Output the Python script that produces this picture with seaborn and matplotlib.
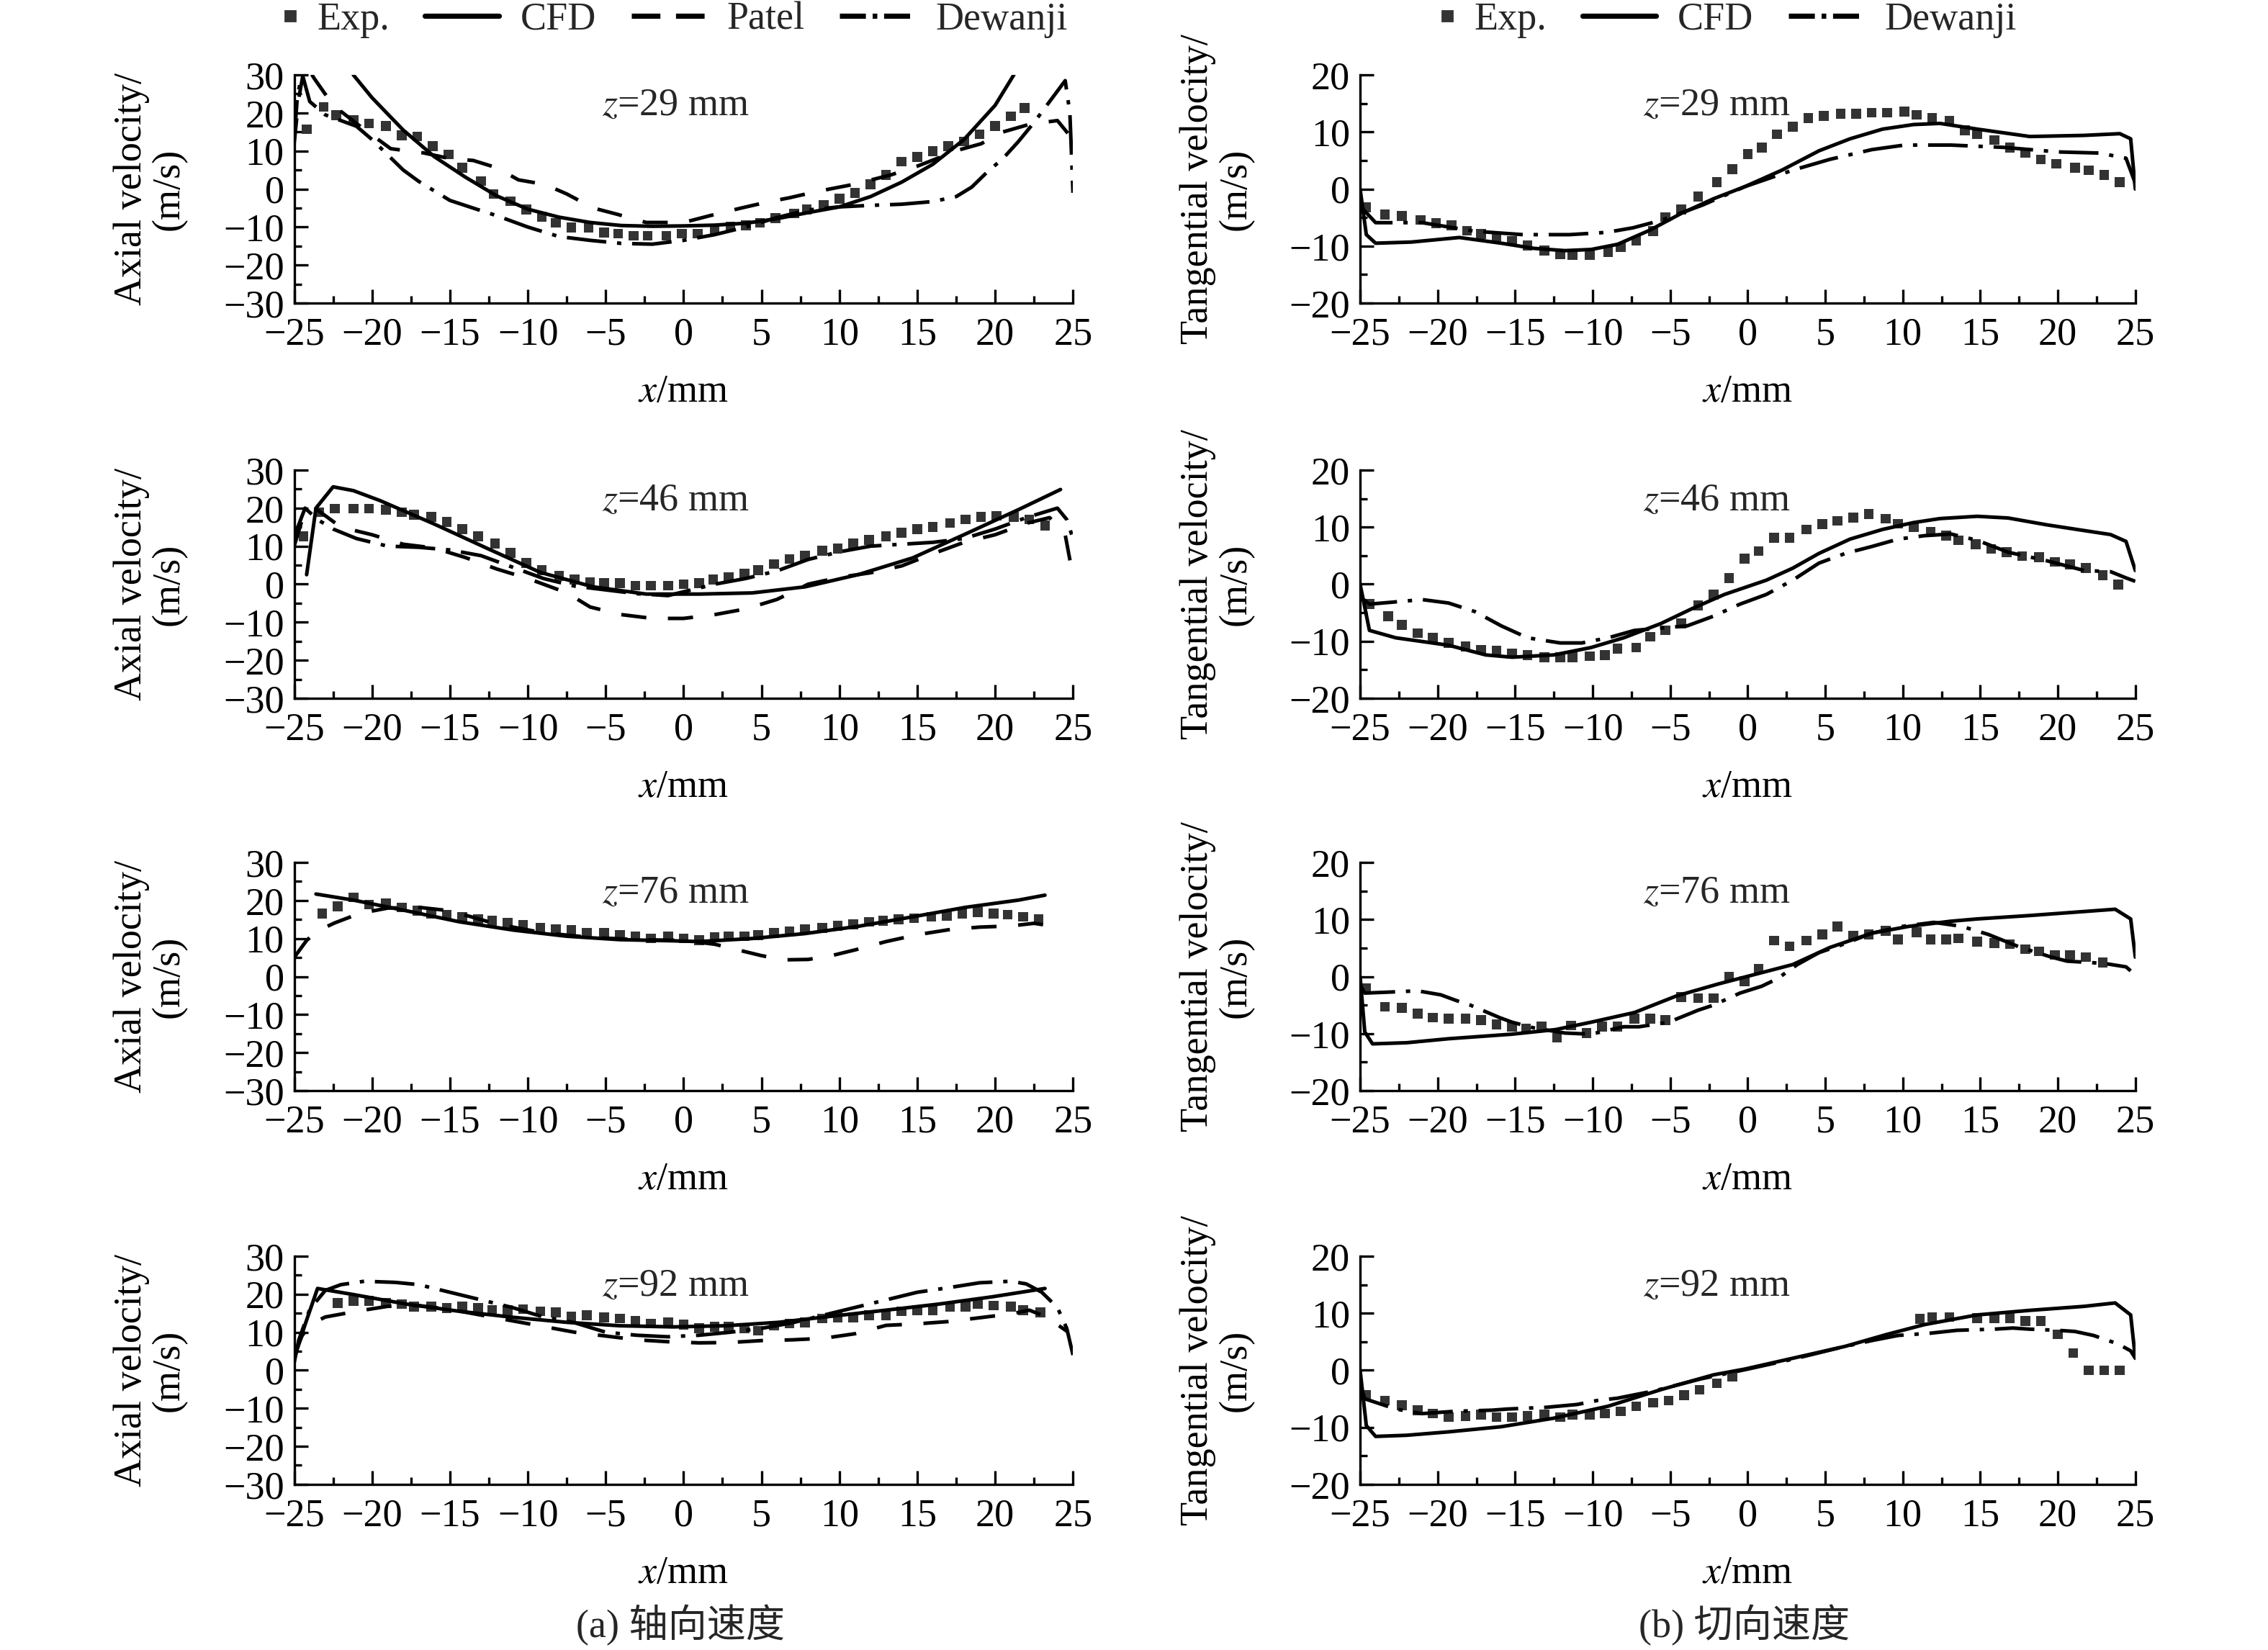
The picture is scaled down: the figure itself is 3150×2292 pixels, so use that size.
import matplotlib
matplotlib.use("Agg")
import matplotlib.pyplot as plt
from matplotlib.lines import Line2D
from matplotlib.legend_handler import HandlerLine2D
from matplotlib.ticker import MultipleLocator
import seaborn as sns

# ---------------- axial velocity, z = 29 mm ----------------
A29_EXP_X = [-24.2, -23.1, -22.3, -21.2, -20.2, -19.1, -18.1, -17.1, -16.1, -15.1, -14.2, -13.0,
             -12.2, -11.1, -10.1, -9.1, -8.2, -7.2, -6.1, -5.1, -4.2, -3.2, -2.3, -1.1, -0.1,
             0.9, 2.0, 3.0, 4.0, 4.9, 5.9, 7.1, 7.9, 9.0, 10.0, 11.0, 12.0, 13.0, 14.0, 15.0,
             16.0, 17.0, 18.0, 19.0, 20.0, 21.0, 21.9]
A29_EXP_Y = [15.7, 21.6, 19.4, 18.2, 17.2, 16.6, 14.1, 13.8, 11.3, 9.1, 5.6, 2.1,
             -1.3, -3.2, -5.4, -7.3, -8.9, -10.1, -10.1, -11.4, -11.7, -12.3, -12.3, -12.3, -11.7,
             -11.7, -10.8, -9.8, -9.5, -8.9, -7.6, -6.4, -5.4, -4.2, -2.6, -1.0, 1.2, 3.7, 7.2, 8.4,
             10.0, 11.3, 12.5, 14.4, 16.6, 19.1, 21.3]
A29_CFD_X = [-21.2, -20, -18, -16, -14, -12, -10, -8, -6, -4, -2, 0, 2, 4, 6, 8, 10, 12, 14,
             16, 18, 20, 21.2]
A29_CFD_Y = [30, 24, 15.5, 8.5, 3.1, -1.8, -5.3, -7.4, -8.8, -9.6, -9.8, -9.7, -9.5, -9, -7.8,
             -6.2, -4.7, -2, 1.8, 6.5, 13, 22, 30]
A29_PAT_X = [-25, -24.7, -24.3, -23.7, -22.5, -20.7, -18.8, -16.7, -15, -13.5, -12, -10.6, -8.9,
             -7.5, -5.8, -4.3, -2.4, 0, 1.7, 3.7, 5.3, 6.8, 8.5, 10.9, 13.3, 15, 17.7, 19.1,
             20.5, 22.2, 24, 25]
A29_PAT_Y = [12, 24, 33, 29, 22, 16.3, 10.6, 9.5, 8, 7.5, 5.6, 2.4, 1.2, -1.3, -5, -6.6, -8.8,
             -8.8, -7, -5, -3.5, -2.3, -0.7, 1.2, 3.7, 6, 10.3, 11.9, 15, 17, 18, 13]
A29_DEW_X = [-25, -24.8, -24.5, -24, -23, -21, -20, -19, -18, -17, -16, -15, -13, -12, -10, -8,
             -6, -4, -2, 0, 2, 4, 6, 8, 10, 12, 14, 16, 17.5, 18.5, 19.5, 20.5, 21.5, 22.5,
             23.5, 24.5, 24.8, 25]
A29_DEW_Y = [13, 24, 30.5, 23, 19.5, 16.5, 13, 9, 5, 2, -0.5, -3, -5.7, -7, -10, -12.5, -13.5,
             -14.3, -14.5, -13.5, -12, -10, -7.5, -5.5, -4.7, -4.3, -4, -3.3, -2, 0.5, 4.5, 8,
             12.5, 17.5, 23, 28.5, 20, -1]

# ---------------- axial velocity, z = 46 mm ----------------
A46_EXP_X = [-24.4, -23.4, -22.4, -21.2, -20.2, -19.1, -18.1, -17.3, -16.2, -15.2, -14.2, -13.2,
             -12.1, -11.1, -10.1, -9.1, -8.0, -7.0, -6.0, -5.1, -4.1, -3.1, -2.1, -1.0, 0, 1.0,
             1.9, 2.9, 3.9, 4.8, 5.8, 6.8, 7.8, 8.9, 9.9, 10.9, 11.9, 13.0, 14.0, 15.0, 16.0,
             17.1, 18.1, 19.1, 20.1, 21.2, 22.2, 23.2]
A46_EXP_Y = [12.6, 18.9, 19.9, 19.9, 19.9, 19.6, 18.9, 18.3, 17.7, 16.4, 14.5, 12.6,
             10.7, 8.2, 5.6, 3.7, 2.2, 1.2, 0.6, 0.3, 0.3, -0.4, -0.4, -0.4, 0, 0.3,
             1.2, 1.8, 2.8, 3.7, 5.3, 6.6, 7.5, 8.8, 9.4, 10.7, 11.6, 12.6, 13.5, 14.5, 15.1,
             16.1, 17.0, 17.7, 18.0, 17.7, 17.0, 15.4]
A46_CFD_X = [-24.2, -23.6, -22.5, -21.2, -19.5, -16, -12.6, -9.2, -5.8, -2.4, 1, 4.4, 7.8, 11.2,
             14.7, 18.1, 21.5, 24.2]
A46_CFD_Y = [2.5, 20, 25.6, 24.6, 22, 15.8, 9.4, 3.1, -0.7, -2.6, -2.6, -2.3, -0.7, 2.5, 6.9,
             13.2, 19.6, 24.9]
A46_PAT_X = [-25, -24.3, -23.5, -23, -22, -20, -18, -16, -14, -12, -10, -8, -7, -6, -4, -2, 0,
             2, 4, 6, 8, 10, 12, 14, 16, 18, 20, 22, 23.5, 24.5, 25]
A46_PAT_Y = [10, 19.5, 19.5, 18, 15, 13, 10.5, 9.5, 7, 4, 1.5, -1.5, -3.5, -6, -8, -9, -9,
             -8, -6.5, -4, 0, 1.8, 3, 4.8, 8, 11, 13, 16, 17.5, 13, 2]
A46_DEW_X = [-25, -24.3, -23.5, -22.5, -21, -19, -17, -15, -13, -11, -9, -7, -5, -3, -1, 0, 2,
             4, 6, 8, 10, 12, 14, 16, 18, 20, 22, 24, 24.6, 25]
A46_DEW_Y = [12.5, 20, 17, 14.5, 12, 10, 9.7, 9, 7.5, 4.5, 1.5, -0.5, -1.5, -2.5, -3, -2, 0,
             1.5, 3.5, 6.5, 8.5, 10, 10.5, 11, 12, 14.5, 17.5, 20, 17, 12]

# ---------------- axial velocity, z = 76 mm ----------------
A76_EXP_X = [-23.2, -22.2, -21.2, -20.2, -19.1, -18.1, -17.1, -16.2, -15.2, -14.2, -13.2, -12.3,
             -11.3, -10.3, -9.2, -8.2, -7.2, -6.2, -5.1, -4.1, -3.1, -2.1, -1.0, 0, 1, 2, 2.9,
             3.9, 4.8, 5.8, 6.8, 7.8, 8.9, 9.9, 10.9, 11.9, 12.8, 13.8, 14.8, 15.9, 16.9, 17.9,
             18.9, 19.9, 20.8, 21.8, 22.8]
A76_EXP_Y = [16.6, 18.5, 20.8, 18.9, 19.2, 18.2, 17.3, 16.6, 16.3, 15.7, 15.1, 14.7,
             14.1, 13.5, 12.8, 12.5, 12.2, 11.5, 11.5, 10.9, 10.6, 10.0, 10.6, 10.0, 9.6, 10.3, 10.6,
             10.6, 10.9, 11.5, 11.8, 12.5, 12.8, 13.4, 13.7, 14.4, 14.7, 15.0, 15.3, 15.7, 16.0, 16.6,
             17.0, 16.6, 16.3, 15.7, 15.1]
A76_CFD_X = [-23.6, -21.2, -17.8, -14.4, -10.9, -7.5, -4.1, -0.7, 1, 4.4, 7.8, 11.2, 14.7, 18.1,
             21.5, 23.2]
A76_CFD_Y = [21.7, 20.1, 17.3, 14.4, 12.2, 10.6, 9.7, 9.4, 9.2, 10, 11.3, 13.2, 15.7, 18.2,
             20.1, 21.4]
A76_PAT_X = [-25, -24.2, -23.5, -22.4, -20.8, -19, -17, -15, -12, -9, -6, -3, 0, 2, 3.5, 5,
             6.5, 8, 9.5, 11, 13, 15, 17, 19, 21, 22.5, 23.3, 24]
A76_PAT_Y = [5, 9.5, 12, 14.1, 16.6, 18, 18.2, 17.3, 13.8, 11.5, 10.3, 9.7, 9.5, 8.5, 7, 5.5,
             4.4, 4.5, 5.5, 7, 9.2, 11, 12.3, 13, 13.3, 14, 13.5, 11]

# ---------------- axial velocity, z = 92 mm ----------------
A92_EXP_X = [-22.2, -21.2, -20.2, -19.1, -18.1, -17.3, -16.2, -15.2, -14.2, -13.2, -12.3, -11.3,
             -10.3, -9.2, -8.2, -7.2, -6.2, -5.1, -4.1, -3.1, -2.1, -1.0, 0, 1, 2, 2.9, 3.9, 4.8,
             5.8, 6.8, 7.8, 8.9, 9.9, 10.9, 11.9, 13, 14, 15, 16, 17.1, 18.1, 18.9, 19.9, 21,
             21.8, 22.9]
A92_EXP_Y = [17.7, 18.3, 18.3, 17.7, 17.4, 16.7, 16.7, 16.4, 16.7, 16.4, 15.8, 15.8,
             16.1, 15.5, 15.2, 14.2, 14.5, 13.9, 13.6, 12.9, 12.3, 12.6, 12.0, 11.0, 11.4, 11.4, 11.0,
             10.4, 11.7, 12.3, 12.6, 13.6, 13.9, 13.9, 14.5, 14.5, 15.5, 15.8, 15.8, 16.7, 16.7,
             17.4, 17.0, 16.7, 15.8, 15.2]
A92_CFD_X = [-25, -24.3, -23.5, -21.2, -17.8, -14.4, -10.9, -7.5, -4.1, -0.7, 2.7, 6.1, 9.5, 13,
             16.4, 19.8, 23.2]
A92_CFD_Y = [3, 12, 21.5, 19.9, 17.4, 15.5, 13.9, 12.6, 11.7, 11.4, 11.7, 12.6, 14.2, 15.8,
             17.4, 19.3, 21.5]
A92_PAT_X = [-25, -24.5, -24, -23, -21, -19, -17, -15, -13, -11, -9, -7, -5, -3, -1, 1, 3, 5,
             7, 9, 11, 13, 15, 17, 19, 21, 22.2, 23, 24, 24.7]
A92_PAT_Y = [4, 9, 12, 14, 15.5, 16.8, 17, 16, 14.5, 13, 11.5, 10, 9, 8, 7.5, 7.2, 7.3, 7.8,
             8, 8.4, 9.6, 11.8, 12.2, 12.8, 13.8, 14.8, 15.8, 14.5, 12, 10]
A92_DEW_X = [-25, -24.7, -24, -23, -22, -20.5, -18.5, -17, -15, -13, -11, -9, -7, -5, -3, -1, 1,
             3, 5, 7, 9, 11, 13, 15, 17, 19, 21, 22, 23, 24, 24.6, 25]
A92_DEW_Y = [2, 8, 16, 21, 22.5, 23.4, 23.1, 22.5, 20.5, 18.5, 16.5, 14, 12.5, 10, 9.2, 8.8, 9.2,
             10, 11, 12.5, 14.5, 16.5, 18.5, 20.5, 21.7, 23, 23.4, 22.7, 20.5, 16.5, 11, 4]

# ---------------- tangential velocity, z = 29 mm ----------------
T29_EXP_X = [-24.6, -23.4, -22.3, -21.1, -20.1, -19.1, -18.1, -17.2, -16.2, -15.2, -14.2, -13.1,
             -12.1, -11.3, -10.2, -9.0, -8.2, -7.2, -6.1, -5.3, -4.3, -3.2, -2.0, -1.0, 0, 0.9,
             1.9, 2.9, 3.9, 4.9, 6, 7, 8, 9, 10.1, 10.9, 11.9, 13, 14, 14.8, 15.9, 16.9, 17.9,
             18.9, 19.9, 21.1, 22, 23, 24]
T29_EXP_Y = [-3.2, -4.5, -4.7, -5.4, -6.0, -6.4, -7.3, -7.9, -8.3, -9.1, -9.9, -10.8,
             -11.4, -11.6, -11.6, -11.0, -10.2, -9.1, -7.4, -4.9, -3.6, -1.3, 1.2, 3.5, 6.1, 7.3,
             9.6, 10.9, 12.4, 12.8, 13.2, 13.2, 13.4, 13.4, 13.6, 13.0, 12.4, 12.0, 10.3, 9.6, 8.6,
             7.3, 6.3, 5.2, 4.4, 3.7, 3.3, 2.5, 1.2]
T29_CFD_X = [-25, -24.6, -24, -21.7, -18.6, -15.9, -13.8, -11.8, -10.1, -8.4, -6.3, -4.3, -2.2,
             -0.2, 2.2, 4.6, 6.6, 8.7, 10.7, 12.4, 14.8, 18.2, 21.7, 24, 24.7, 25]
T29_CFD_Y = [0, -8, -9.5, -9.3, -8.5, -9.5, -10.4, -10.8, -10.6, -9.7, -7.2, -4.3, -1.7, 0.4,
             3.3, 6.7, 8.8, 10.5, 11.3, 11.5, 10.5, 9.2, 9.4, 9.7, 8.8, 0]
T29_DEW_X = [-25, -24, -21, -17.6, -14.5, -11.5, -9.1, -7.4, -5.6, -2.9, -0.2, 2.9, 5.3, 8, 10.1,
             13.1, 16.5, 20, 22.7, 24.4, 25]
T29_DEW_Y = [-3, -5.9, -5.9, -7.4, -8, -8, -7.6, -6.8, -5.5, -2.8, 0.4, 3.3, 5.2, 6.9, 7.7,
             7.7, 7.3, 6.5, 6.3, 5.4, 1]

# ---------------- tangential velocity, z = 46 mm ----------------
T46_EXP_X = [-24.4, -23.2, -22.3, -21.3, -20.3, -19.3, -18.2, -17.2, -16.2, -15.2, -14.2, -13.1,
             -12.1, -11.3, -10.2, -9.2, -8.4, -7.2, -6.3, -5.3, -4.3, -3.2, -2.2, -1.2, -0.2, 0.7,
             1.7, 2.7, 3.8, 4.8, 5.8, 6.8, 7.8, 8.9, 9.7, 10.7, 11.8, 12.8, 13.6, 14.7, 15.7,
             16.7, 17.7, 18.8, 19.8, 20.8, 21.8, 22.9, 23.9]
T46_EXP_Y = [-3.5, -5.6, -7.1, -8.6, -9.4, -10.3, -10.9, -11.5, -11.7, -12.2, -12.4, -12.8,
             -12.8, -12.8, -12.6, -12.4, -11.3, -11.1, -9.2, -8.1, -6.9, -3.7, -1.8, 1.1, 4.5, 5.8,
             8.1, 8.1, 9.6, 10.5, 11.1, 11.7, 12.3, 11.5, 10.6, 10.0, 9.2, 8.5, 7.7, 7.0, 6.2,
             5.6, 4.9, 4.7, 3.9, 3.5, 2.8, 1.6, -0.1]
T46_CFD_X = [-25, -24.4, -22.7, -19.3, -16.9, -15.2, -12.5, -10.1, -8, -5.6, -3.6, -1.5, 1.2,
             2.9, 4.6, 6.6, 8.7, 10.7, 12.4, 14.8, 16.8, 19.3, 21.7, 23.4, 24.4, 25]
T46_CFD_Y = [0, -8.1, -9.4, -10.7, -12.4, -12.8, -12.4, -11.1, -9.4, -6.9, -4.3, -1.8, 0.7,
             2.8, 5.4, 7.9, 9.6, 10.8, 11.5, 11.9, 11.6, 10.4, 9.4, 8.7, 7.5, 2.4]
T46_DEW_X = [-25, -24.4, -22.7, -21, -19.3, -17.6, -15.9, -14.2, -12.1, -10.7, -9, -7.3, -5.6,
             -3.9, -2.2, -0.5, 1.2, 2.9, 4.6, 6.3, 8, 9.7, 11.4, 13.1, 14.8, 16.8, 19.3, 21.7,
             23.4, 24.4, 25]
T46_DEW_Y = [-2.2, -3.5, -3.1, -2.7, -3.3, -4.8, -7.3, -9.4, -10.3, -10.3, -9.4, -8.1, -7.7,
             -7.3, -5.6, -3.5, -1.8, 0.7, 3.7, 5.4, 6.6, 7.9, 8.5, 8.8, 7.7, 5.6, 4.1, 2.4,
             2.2, 1.1, 0.5]

# ---------------- tangential velocity, z = 76 mm ----------------
T76_EXP_X = [-24.6, -23.4, -22.3, -21.3, -20.3, -19.3, -18.2, -17.2, -16.2, -15.2, -14.3, -13.3,
             -12.3, -11.4, -10.4, -9.4, -8.4, -7.3, -6.3, -5.3, -4.3, -3.2, -2.2, -1.2, -0.2, 0.7,
             1.7, 2.7, 3.8, 4.8, 5.8, 6.8, 7.8, 8.9, 9.7, 10.9, 11.8, 12.8, 13.6, 14.8, 15.9,
             16.9, 17.9, 18.8, 19.8, 20.8, 21.8, 22.9]
T76_EXP_Y = [-2.1, -5.3, -5.5, -6.5, -7.2, -7.4, -7.4, -7.6, -8.4, -8.8, -9.1, -8.8,
             -10.7, -8.6, -9.9, -8.8, -8.8, -7.4, -7.4, -7.6, -3.6, -3.8, -3.8, 0, -0.8, 1.3,
             6.3, 5.3, 6.3, 7.4, 8.8, 7.2, 7.4, 8.0, 6.5, 7.8, 6.5, 6.5, 6.7, 6.1, 5.9,
             5.7, 4.8, 4.4, 3.8, 3.8, 3.4, 2.5]
T76_CFD_X = [-25, -24.7, -24.2, -22, -19.3, -15.2, -12.4, -10.1, -7.3, -4.6, -1.9, 0.5, 2.9,
             5.3, 8, 10.4, 13.1, 14.8, 18.2, 21.7, 23.7, 24.7, 25]
T76_CFD_Y = [0, -9.7, -11.8, -11.6, -10.9, -10.1, -9.3, -8, -6.3, -3.4, -1.3, 0.4, 2.1, 5.1,
             7.6, 8.8, 9.7, 10.1, 10.7, 11.4, 11.8, 10.1, 3.4]
T76_DEW_X = [-25, -24.7, -22.9, -21.3, -19.8, -18.8, -17.9, -16, -15.2, -13.8, -11.8, -10.1, -8,
             -7, -5.1, -3.2, -2.2, -0.5, 0.9, 1.9, 3.2, 4.6, 6, 8, 10, 12, 13.8, 15.5, 17.6,
             19.6, 20.6, 23, 24.4, 24.7]
T76_DEW_Y = [-1.5, -2.9, -2.7, -2.5, -3.2, -4.2, -5, -7.2, -8, -9, -9.9, -10.1, -8.8, -8.8, -8,
             -5.9, -5, -2.9, -1.7, -0.4, 2.1, 4.2, 5.5, 7.6, 8.8, 9.5, 8.8, 7.4, 5.1, 3.4, 2.7,
             2.3, 1.7, 1]

# ---------------- tangential velocity, z = 92 mm ----------------
T92_EXP_X = [-24.6, -23.4, -22.3, -21.3, -20.3, -19.3, -18.2, -17.2, -16.2, -15.2, -14.2, -13.1,
             -12.1, -11.3, -10.2, -9.2, -8.2, -7.2, -6.1, -5.1, -4.1, -3.1, -2.0, -1.0, 11.1,
             11.9, 13, 14.8, 15.9, 16.9, 17.9, 18.9, 20, 21, 22, 23, 24]
T92_EXP_Y = [-4.4, -5.3, -6.1, -7.0, -7.6, -8.2, -8.0, -7.8, -8.2, -8.2, -8.0, -7.8,
             -8.2, -7.8, -7.8, -7.6, -7.2, -6.3, -5.7, -5.3, -4.4, -3.4, -2.3, -1.1, 9.0,
             9.3, 9.3, 9.1, 9.1, 9.1, 8.6, 8.6, 6.3, 3.0, 0, 0, 0]
T92_CFD_X = [-25, -24.6, -24, -22, -19.3, -15.9, -12.5, -9, -5.6, -2.2, -0.2, 2.9, 6.3, 9, 11.4,
             14.8, 18.2, 21.7, 23.7, 24.7, 25]
T92_CFD_Y = [0, -9.7, -11.6, -11.4, -10.8, -9.9, -8.4, -6.3, -3.4, -0.8, 0.2, 2.1, 4.2, 6.3, 8,
             9.7, 10.5, 11.2, 11.8, 9.7, 2.1]
T92_DEW_X = [-25, -24.7, -23.7, -22.7, -21, -18.9, -16.5, -15.5, -13, -11, -9.7, -8.4, -6, -3, 0,
             3, 6, 8, 9.7, 11.8, 13.5, 15.9, 17.1, 18.2, 20, 21.1, 22.3, 23.9, 24.7, 25]
T92_DEW_Y = [-2.5, -5, -5.9, -6.8, -7.6, -7.2, -7, -6.8, -6.5, -6, -5.3, -4.9, -3.6, -1.5, 0.2,
             2, 4, 5.2, 6.1, 6.5, 7, 7.2, 7.4, 7.2, 7, 6.8, 6.1, 4.6, 3.4, 2.1]

Z_LABELS = ["29", "46", "76", "92"]
AXIAL_TICKS = [-30, -20, -10, 0, 10, 20, 30]
TANG_TICKS = [-20, -10, 0, 10, 20]

sns.set_theme(style="ticks")
plt.rcParams["font.family"] = ["Liberation Serif", "Noto Sans CJK SC"]
plt.rcParams["mathtext.fontset"] = "stix"
plt.rcParams["axes.unicode_minus"] = True

FS = 19.5
EXP_COLOR = "#333333"
LW = 1.8
LS_CFD = "-"
LS_PATEL = (0, (7, 6))
LS_DEW = (0, (11, 3, 1.2, 3))

LEFT_X, LEFT_W = 0.1297, 0.3434
RIGHT_X, RIGHT_W = 0.5997, 0.3418
ROW_BOTTOMS = [0.8163, 0.5768, 0.339, 0.1004]
AX_H = 0.1383


class MarkerAtRight(HandlerLine2D):
    # put the Exp. square next to its text, like the original legend
    # (with numpoints=1 matplotlib puts the marker at the middle of xdata)
    def get_xdata(self, legend, xdescent, ydescent, width, height, fontsize):
        right = -xdescent + width
        xdata = [right - 0.3 * fontsize, right]
        return xdata, [right - 0.15 * fontsize]


def draw_panel(ax, exp_x, exp_y, curves, yticks, zlab, ylabel, zx):
    sns.scatterplot(x=exp_x, y=exp_y, ax=ax, marker="s", s=24, color=EXP_COLOR,
                    edgecolor="none", linewidth=0, zorder=2)
    for cx, cy, ls in curves:
        sns.lineplot(x=cx, y=cy, ax=ax, color="black", linewidth=LW, linestyle=ls,
                     estimator=None, sort=False, zorder=3)

    ax.set_xlim(-25, 25)
    ax.set_ylim(yticks[0], yticks[-1])
    ax.set_xticks([-25, -20, -15, -10, -5, 0, 5, 10, 15, 20, 25])
    ax.set_yticks(yticks)
    ax.xaxis.set_minor_locator(MultipleLocator(2.5))
    ax.yaxis.set_minor_locator(MultipleLocator(5))
    ax.tick_params(which="both", direction="in", width=1.2, color="black",
                   labelsize=FS, labelcolor="black")
    ax.tick_params(which="major", length=7)
    ax.tick_params(which="minor", length=3.5)
    ax.tick_params(axis="x", pad=7)
    ax.tick_params(axis="y", pad=5)
    sns.despine(ax=ax)
    for side in ("left", "bottom"):
        ax.spines[side].set_linewidth(1.2)
        ax.spines[side].set_color("black")

    ax.set_xlabel(r"$x$/mm", fontsize=FS, color="black")
    ax.xaxis.set_label_coords(0.5, -0.31)
    ax.set_ylabel(ylabel, fontsize=FS, color="black", linespacing=1.05)
    ax.yaxis.set_label_coords(-0.137, 0.5)
    ax.text(zx, 0.867, r"$z$=" + zlab + " mm", transform=ax.transAxes, ha="center",
            va="center", fontsize=FS)


fig = plt.figure(figsize=(15.75, 11.46), dpi=200)

axial = [
    (A29_EXP_X, A29_EXP_Y, [(A29_CFD_X, A29_CFD_Y, LS_CFD), (A29_PAT_X, A29_PAT_Y, LS_PATEL),
                            (A29_DEW_X, A29_DEW_Y, LS_DEW)]),
    (A46_EXP_X, A46_EXP_Y, [(A46_CFD_X, A46_CFD_Y, LS_CFD), (A46_PAT_X, A46_PAT_Y, LS_PATEL),
                            (A46_DEW_X, A46_DEW_Y, LS_DEW)]),
    (A76_EXP_X, A76_EXP_Y, [(A76_CFD_X, A76_CFD_Y, LS_CFD), (A76_PAT_X, A76_PAT_Y, LS_PATEL)]),
    (A92_EXP_X, A92_EXP_Y, [(A92_CFD_X, A92_CFD_Y, LS_CFD), (A92_PAT_X, A92_PAT_Y, LS_PATEL),
                            (A92_DEW_X, A92_DEW_Y, LS_DEW)]),
]
tangential = [
    (T29_EXP_X, T29_EXP_Y, [(T29_CFD_X, T29_CFD_Y, LS_CFD), (T29_DEW_X, T29_DEW_Y, LS_DEW)]),
    (T46_EXP_X, T46_EXP_Y, [(T46_CFD_X, T46_CFD_Y, LS_CFD), (T46_DEW_X, T46_DEW_Y, LS_DEW)]),
    (T76_EXP_X, T76_EXP_Y, [(T76_CFD_X, T76_CFD_Y, LS_CFD), (T76_DEW_X, T76_DEW_Y, LS_DEW)]),
    (T92_EXP_X, T92_EXP_Y, [(T92_CFD_X, T92_CFD_Y, LS_CFD), (T92_DEW_X, T92_DEW_Y, LS_DEW)]),
]

for i, bottom in enumerate(ROW_BOTTOMS):
    ax_l = fig.add_axes([LEFT_X, bottom, LEFT_W, AX_H])
    ex, ey, curves = axial[i]
    draw_panel(ax_l, ex, ey, curves, AXIAL_TICKS, Z_LABELS[i], "Axial velocity/\n(m/s)", 0.49)
    ax_r = fig.add_axes([RIGHT_X, bottom, RIGHT_W, AX_H])
    ex, ey, curves = tangential[i]
    draw_panel(ax_r, ex, ey, curves, TANG_TICKS, Z_LABELS[i], "Tangential velocity/\n(m/s)", 0.46)

# legends above each column
h_exp = Line2D([], [], marker="s", ls="none", color=EXP_COLOR, markersize=5, label="Exp.")
h_cfd = Line2D([], [], color="black", lw=2.6, ls=LS_CFD, label="CFD")
h_pat = Line2D([], [], color="black", lw=2.6, ls=(0, (5.5, 3)), label="Patel")
h_dew = Line2D([], [], color="black", lw=2.6, ls=(0, (5, 1.3, 0.9, 1.3)), label="Dewanji")

leg_kw = dict(loc="center left", ncol=4, frameon=False, fontsize=FS, handlelength=1.9,
              handletextpad=0.55, columnspacing=0.9, borderaxespad=0, borderpad=0,
              handler_map={h_exp: MarkerAtRight()})
fig.legend(handles=[h_exp, h_cfd, h_pat, h_dew], bbox_to_anchor=(0.0977, 0.988), **leg_kw)
fig.legend(handles=[h_exp, h_cfd, h_dew], bbox_to_anchor=(0.608, 0.988), **leg_kw)

fig.text(0.300, 0.015, "(a) 轴向速度", ha="center", va="center", fontsize=FS)
fig.text(0.769, 0.015, "(b) 切向速度", ha="center", va="center", fontsize=FS)

fig.savefig("out.png", dpi=200)
